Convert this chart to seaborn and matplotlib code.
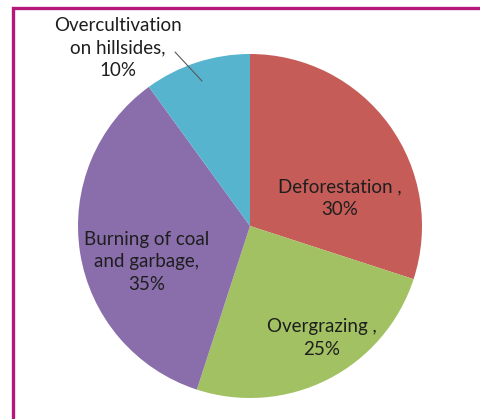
import matplotlib
matplotlib.use("Agg")
import matplotlib.pyplot as plt
import seaborn as sns
from matplotlib.patches import Rectangle

categories = ["Deforestation", "Overgrazing", "Burning of coal\nand garbage", "Overcultivation\non hillsides"]
values = [30, 25, 35, 10]
label_texts = ["Deforestation ,\n30%", "Overgrazing ,\n25%", "Burning of coal\nand garbage,\n35%", "Overcultivation\non hillsides,\n10%"]
colors = ["#C65C57", "#A2C163", "#8A6EAB", "#56B4CE"]

sns.set_theme(style="white")
plt.rcParams['font.family'] = ['Lato', 'DejaVu Sans']

W, H = 480, 419
fig = plt.figure(figsize=(W / 100, H / 100), dpi=100)
fig.patch.set_facecolor("white")
ax = fig.add_axes([0, 0, 1, 1])

cx, cy, r = 250, H - 226, 172
wedges, _ = ax.pie(values, colors=colors, startangle=90, counterclock=False,
                   center=(cx, cy), radius=r, frame=True,
                   wedgeprops=dict(linewidth=0))
ax.set_xlim(0, W)
ax.set_ylim(0, H)
ax.set_aspect("equal")
ax.axis("off")

pos = [(340, 198), (322, 338), (147, 262), (118, 48)]
for t, (x, y) in zip(label_texts, pos):
    ax.text(x, H - y, t, ha="center", va="center", fontsize=13.5,
            color="#1E1E1E", linespacing=1.42)

# leader line for small slice
ax.plot([175, 202], [H - 52, H - 81], color="#595959", linewidth=0.8)

# border
fig.patches.append(Rectangle((13 / W, 0 - 0.02), 1.2, (H - 8) / H + 0.02,
                             transform=fig.transFigure, fill=False,
                             edgecolor="#B5177A", linewidth=2.4))

fig.savefig("out.png", dpi=100)
